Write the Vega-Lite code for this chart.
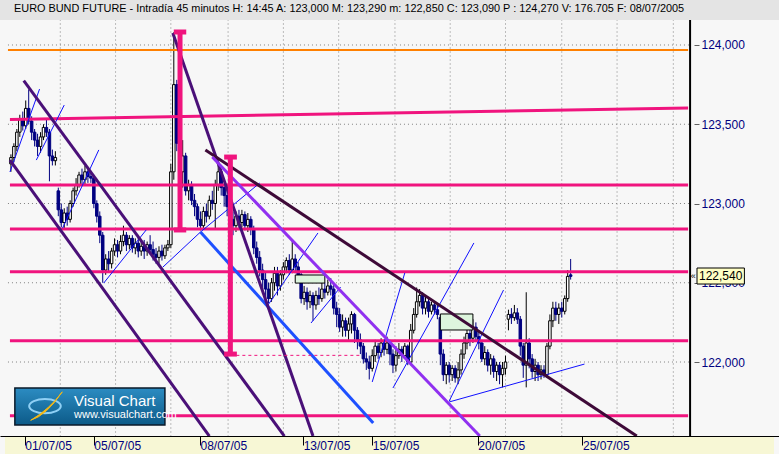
{
"$schema":"https://vega.github.io/schema/vega-lite/v6.json",
"width":779,"height":434,
"autosize":{"type":"none"},
"padding":{"left":0,"right":0,"top":20,"bottom":0},
"background":"#E4E4E4",
"config":{"view":{"fill":"#F7F7F7","stroke":null}},
"title":{"text":"EURO BUND FUTURE - Intradía 45 minutos  H: 14:45  A: 123,000  M: 123,290  m: 122,850  C: 123,090  P : 124,270  V: 176.705  F: 08/07/2005","anchor":"start","frame":"group","font":"Liberation Sans","fontSize":10.9,"fontWeight":"normal","color":"#000000","offset":5,"dx":14},
"datasets":{
"one":[{}],
"gh":[{"p":122},{"p":122.5},{"p":123},{"p":123.5},{"p":124}],
"gv":[{"t":17.67},{"t":36.33},{"t":55},{"t":74.33},{"t":93},{"t":111.67},{"t":130.67},{"t":149.33},{"t":168},{"t":187},{"t":205.67},{"t":224.67}],
"candles":[
{"t":1,"o":123.25,"h":123.31,"l":123.2,"c":123.29},
{"t":2,"o":123.29,"h":123.38,"l":123.26,"c":123.36},
{"t":3,"o":123.36,"h":123.47,"l":123.33,"c":123.45},
{"t":4,"o":123.45,"h":123.56,"l":123.42,"c":123.53},
{"t":5,"o":123.53,"h":123.58,"l":123.46,"c":123.49},
{"t":6,"o":123.49,"h":123.65,"l":123.47,"c":123.6},
{"t":7,"o":123.6,"h":123.72,"l":123.5,"c":123.52},
{"t":8,"o":123.52,"h":123.55,"l":123.4,"c":123.45},
{"t":9,"o":123.45,"h":123.47,"l":123.36,"c":123.4},
{"t":10,"o":123.4,"h":123.44,"l":123.3,"c":123.36},
{"t":11,"o":123.36,"h":123.45,"l":123.32,"c":123.42},
{"t":12,"o":123.42,"h":123.5,"l":123.4,"c":123.48},
{"t":13,"o":123.48,"h":123.53,"l":123.42,"c":123.45},
{"t":14,"o":123.45,"h":123.47,"l":123.14,"c":123.3},
{"t":15,"o":123.3,"h":123.34,"l":123.24,"c":123.27},
{"t":16,"o":123.27,"h":123.33,"l":123.24,"c":123.29},
{"t":17,"o":123.08,"h":123.1,"l":122.92,"c":122.96},
{"t":18,"o":122.96,"h":123.0,"l":122.85,"c":122.88},
{"t":19,"o":122.88,"h":122.97,"l":122.84,"c":122.94},
{"t":20,"o":122.94,"h":122.98,"l":122.86,"c":122.9},
{"t":21,"o":122.9,"h":123.02,"l":122.88,"c":123.0},
{"t":22,"o":123.0,"h":123.1,"l":122.98,"c":123.08},
{"t":23,"o":123.08,"h":123.16,"l":123.05,"c":123.12},
{"t":24,"o":123.12,"h":123.2,"l":123.1,"c":123.18},
{"t":25,"o":123.18,"h":123.22,"l":123.12,"c":123.15},
{"t":26,"o":123.15,"h":123.24,"l":123.12,"c":123.2},
{"t":27,"o":123.2,"h":123.22,"l":123.13,"c":123.17},
{"t":28,"o":123.17,"h":123.2,"l":123.13,"c":123.16},
{"t":29,"o":123.16,"h":123.17,"l":122.97,"c":123.0},
{"t":30,"o":123.0,"h":123.02,"l":122.88,"c":122.92},
{"t":31,"o":122.92,"h":122.95,"l":122.75,"c":122.8},
{"t":32,"o":122.8,"h":122.82,"l":122.5,"c":122.58},
{"t":33,"o":122.58,"h":122.68,"l":122.55,"c":122.65},
{"t":34,"o":122.65,"h":122.7,"l":122.57,"c":122.62},
{"t":35,"o":122.62,"h":122.72,"l":122.59,"c":122.7},
{"t":36,"o":122.7,"h":122.78,"l":122.67,"c":122.74},
{"t":37,"o":122.74,"h":122.77,"l":122.66,"c":122.7},
{"t":38,"o":122.7,"h":122.8,"l":122.68,"c":122.76},
{"t":39,"o":122.76,"h":122.86,"l":122.73,"c":122.8},
{"t":40,"o":122.8,"h":122.82,"l":122.7,"c":122.74},
{"t":41,"o":122.74,"h":122.8,"l":122.71,"c":122.78},
{"t":42,"o":122.78,"h":122.8,"l":122.69,"c":122.72},
{"t":43,"o":122.72,"h":122.78,"l":122.68,"c":122.75},
{"t":44,"o":122.75,"h":122.79,"l":122.66,"c":122.7},
{"t":45,"o":122.7,"h":122.76,"l":122.67,"c":122.73},
{"t":46,"o":122.73,"h":122.77,"l":122.65,"c":122.7},
{"t":47,"o":122.7,"h":122.76,"l":122.67,"c":122.74},
{"t":48,"o":122.74,"h":122.8,"l":122.68,"c":122.71},
{"t":49,"o":122.71,"h":122.76,"l":122.64,"c":122.68},
{"t":50,"o":122.68,"h":122.72,"l":122.62,"c":122.66},
{"t":51,"o":122.66,"h":122.73,"l":122.62,"c":122.7},
{"t":52,"o":122.7,"h":122.74,"l":122.64,"c":122.67},
{"t":53,"o":122.67,"h":122.74,"l":122.65,"c":122.72},
{"t":54,"o":122.72,"h":122.77,"l":122.7,"c":122.74},
{"t":55,"o":122.74,"h":123.25,"l":122.72,"c":123.2},
{"t":56,"o":123.2,"h":124.08,"l":123.15,"c":123.75},
{"t":57,"o":123.75,"h":123.78,"l":123.33,"c":123.38},
{"t":58,"o":123.38,"h":123.42,"l":123.14,"c":123.2},
{"t":59,"o":123.2,"h":123.4,"l":123.1,"c":123.3},
{"t":60,"o":123.3,"h":123.32,"l":123.05,"c":123.08},
{"t":61,"o":123.08,"h":123.15,"l":123.02,"c":123.12},
{"t":62,"o":123.12,"h":123.14,"l":122.99,"c":123.02},
{"t":63,"o":123.02,"h":123.06,"l":122.92,"c":122.98},
{"t":64,"o":122.98,"h":123.0,"l":122.85,"c":122.9},
{"t":65,"o":122.9,"h":122.95,"l":122.83,"c":122.86},
{"t":66,"o":122.86,"h":122.98,"l":122.84,"c":122.95},
{"t":67,"o":122.95,"h":123.0,"l":122.88,"c":122.92},
{"t":68,"o":122.92,"h":123.05,"l":122.9,"c":123.02},
{"t":69,"o":123.02,"h":123.08,"l":122.96,"c":123.0},
{"t":70,"o":123.0,"h":123.15,"l":122.84,"c":123.12},
{"t":71,"o":123.12,"h":123.27,"l":123.08,"c":123.2},
{"t":72,"o":123.2,"h":123.22,"l":123.05,"c":123.1},
{"t":73,"o":123.1,"h":123.12,"l":122.98,"c":123.05},
{"t":74,"o":123.05,"h":123.08,"l":122.92,"c":122.98},
{"t":75,"o":122.98,"h":123.0,"l":122.84,"c":122.9},
{"t":76,"o":122.9,"h":122.95,"l":122.8,"c":122.86},
{"t":77,"o":122.86,"h":122.95,"l":122.82,"c":122.92},
{"t":78,"o":122.92,"h":122.96,"l":122.84,"c":122.88},
{"t":79,"o":122.88,"h":122.96,"l":122.85,"c":122.93},
{"t":80,"o":122.93,"h":122.95,"l":122.83,"c":122.86},
{"t":81,"o":122.86,"h":122.94,"l":122.82,"c":122.9},
{"t":82,"o":122.9,"h":122.92,"l":122.8,"c":122.84},
{"t":83,"o":122.84,"h":122.86,"l":122.68,"c":122.72},
{"t":84,"o":122.72,"h":122.76,"l":122.62,"c":122.66},
{"t":85,"o":122.66,"h":122.7,"l":122.54,"c":122.58},
{"t":86,"o":122.58,"h":122.62,"l":122.46,"c":122.52},
{"t":87,"o":122.52,"h":122.57,"l":122.4,"c":122.46},
{"t":88,"o":122.46,"h":122.5,"l":122.37,"c":122.4},
{"t":89,"o":122.4,"h":122.53,"l":122.38,"c":122.5},
{"t":90,"o":122.5,"h":122.6,"l":122.45,"c":122.56},
{"t":91,"o":122.56,"h":122.6,"l":122.42,"c":122.48},
{"t":92,"o":122.48,"h":122.58,"l":122.45,"c":122.55},
{"t":93,"o":122.55,"h":122.63,"l":122.52,"c":122.6},
{"t":94,"o":122.6,"h":122.66,"l":122.56,"c":122.64},
{"t":95,"o":122.64,"h":122.68,"l":122.55,"c":122.58},
{"t":96,"o":122.58,"h":122.77,"l":122.56,"c":122.65},
{"t":97,"o":122.65,"h":122.68,"l":122.56,"c":122.6},
{"t":98,"o":122.6,"h":122.63,"l":122.52,"c":122.55},
{"t":99,"o":122.55,"h":122.57,"l":122.37,"c":122.4},
{"t":100,"o":122.4,"h":122.48,"l":122.36,"c":122.44},
{"t":101,"o":122.44,"h":122.47,"l":122.33,"c":122.38},
{"t":102,"o":122.38,"h":122.45,"l":122.34,"c":122.42},
{"t":103,"o":122.42,"h":122.44,"l":122.26,"c":122.36},
{"t":104,"o":122.36,"h":122.45,"l":122.33,"c":122.42},
{"t":105,"o":122.42,"h":122.47,"l":122.36,"c":122.4},
{"t":106,"o":122.4,"h":122.5,"l":122.38,"c":122.46},
{"t":107,"o":122.46,"h":122.5,"l":122.4,"c":122.44},
{"t":108,"o":122.44,"h":122.52,"l":122.42,"c":122.48},
{"t":109,"o":122.48,"h":122.53,"l":122.42,"c":122.46},
{"t":110,"o":122.46,"h":122.5,"l":122.3,"c":122.34},
{"t":111,"o":122.34,"h":122.38,"l":122.22,"c":122.3},
{"t":112,"o":122.3,"h":122.34,"l":122.19,"c":122.22},
{"t":113,"o":122.22,"h":122.3,"l":122.16,"c":122.26},
{"t":114,"o":122.26,"h":122.28,"l":122.16,"c":122.2},
{"t":115,"o":122.2,"h":122.28,"l":122.14,"c":122.24},
{"t":116,"o":122.24,"h":122.32,"l":122.18,"c":122.3},
{"t":117,"o":122.3,"h":122.31,"l":122.12,"c":122.2},
{"t":118,"o":122.2,"h":122.22,"l":122.08,"c":122.14},
{"t":119,"o":122.14,"h":122.18,"l":122.05,"c":122.1},
{"t":120,"o":122.1,"h":122.12,"l":121.99,"c":122.02},
{"t":121,"o":122.02,"h":122.06,"l":121.95,"c":122.0},
{"t":122,"o":122.0,"h":122.04,"l":121.89,"c":121.96},
{"t":123,"o":121.96,"h":122.08,"l":121.94,"c":122.04},
{"t":124,"o":122.04,"h":122.14,"l":122.0,"c":122.1},
{"t":125,"o":122.1,"h":122.12,"l":122.02,"c":122.06},
{"t":126,"o":122.06,"h":122.15,"l":122.03,"c":122.12},
{"t":127,"o":122.12,"h":122.14,"l":122.04,"c":122.08},
{"t":128,"o":122.08,"h":122.16,"l":122.05,"c":122.12},
{"t":129,"o":122.12,"h":122.14,"l":121.98,"c":122.05},
{"t":130,"o":122.05,"h":122.08,"l":121.93,"c":121.98},
{"t":131,"o":121.98,"h":122.1,"l":121.94,"c":122.04},
{"t":132,"o":122.04,"h":122.12,"l":122.02,"c":122.08},
{"t":133,"o":122.08,"h":122.1,"l":122.0,"c":122.04},
{"t":134,"o":122.04,"h":122.12,"l":122.02,"c":122.1},
{"t":135,"o":122.1,"h":122.11,"l":121.98,"c":122.0},
{"t":136,"o":122.0,"h":122.24,"l":121.98,"c":122.2},
{"t":137,"o":122.2,"h":122.34,"l":122.18,"c":122.3},
{"t":138,"o":122.3,"h":122.47,"l":122.28,"c":122.38},
{"t":139,"o":122.38,"h":122.46,"l":122.35,"c":122.42},
{"t":140,"o":122.42,"h":122.44,"l":122.3,"c":122.34},
{"t":141,"o":122.34,"h":122.42,"l":122.3,"c":122.38},
{"t":142,"o":122.38,"h":122.4,"l":122.28,"c":122.32},
{"t":143,"o":122.32,"h":122.38,"l":122.3,"c":122.36},
{"t":144,"o":122.36,"h":122.38,"l":122.3,"c":122.33},
{"t":145,"o":122.33,"h":122.36,"l":122.27,"c":122.3},
{"t":146,"o":122.28,"h":122.3,"l":121.98,"c":122.05},
{"t":147,"o":122.05,"h":122.08,"l":121.88,"c":121.92},
{"t":148,"o":121.92,"h":122.0,"l":121.86,"c":121.98},
{"t":149,"o":121.98,"h":122.0,"l":121.87,"c":121.92},
{"t":150,"o":121.92,"h":121.98,"l":121.88,"c":121.96},
{"t":151,"o":121.96,"h":121.98,"l":121.87,"c":121.9},
{"t":152,"o":121.9,"h":122.0,"l":121.86,"c":121.95},
{"t":153,"o":121.95,"h":122.08,"l":121.92,"c":122.05},
{"t":154,"o":122.05,"h":122.16,"l":122.02,"c":122.12},
{"t":155,"o":122.12,"h":122.22,"l":122.08,"c":122.18},
{"t":156,"o":122.18,"h":122.22,"l":122.1,"c":122.15},
{"t":157,"o":122.15,"h":122.27,"l":122.12,"c":122.22},
{"t":158,"o":122.22,"h":122.25,"l":122.13,"c":122.16},
{"t":159,"o":122.16,"h":122.2,"l":122.08,"c":122.12},
{"t":160,"o":122.12,"h":122.14,"l":122.0,"c":122.02},
{"t":161,"o":122.02,"h":122.1,"l":121.98,"c":122.06},
{"t":162,"o":122.06,"h":122.08,"l":121.94,"c":121.98},
{"t":163,"o":121.98,"h":122.05,"l":121.92,"c":122.02},
{"t":164,"o":122.02,"h":122.04,"l":121.9,"c":121.94},
{"t":165,"o":121.94,"h":122.0,"l":121.88,"c":121.98},
{"t":166,"o":121.98,"h":122.0,"l":121.86,"c":121.92},
{"t":167,"o":121.92,"h":122.0,"l":121.84,"c":121.96},
{"t":168,"o":121.96,"h":122.04,"l":121.92,"c":122.0},
{"t":169,"o":122.27,"h":122.33,"l":122.2,"c":122.3},
{"t":170,"o":122.3,"h":122.34,"l":122.24,"c":122.28},
{"t":171,"o":122.28,"h":122.36,"l":122.26,"c":122.31},
{"t":172,"o":122.31,"h":122.34,"l":122.24,"c":122.27},
{"t":173,"o":122.27,"h":122.29,"l":122.04,"c":122.1},
{"t":174,"o":122.1,"h":122.12,"l":121.9,"c":121.98},
{"t":175,"o":121.98,"h":122.44,"l":121.84,"c":122.12},
{"t":176,"o":122.12,"h":122.15,"l":121.96,"c":122.02},
{"t":177,"o":122.02,"h":122.05,"l":121.9,"c":121.94},
{"t":178,"o":121.94,"h":122.02,"l":121.88,"c":121.98},
{"t":179,"o":121.98,"h":122.0,"l":121.88,"c":121.92},
{"t":180,"o":121.92,"h":121.98,"l":121.89,"c":121.95},
{"t":181,"o":121.95,"h":121.98,"l":121.9,"c":121.92},
{"t":182,"o":121.92,"h":122.12,"l":121.9,"c":122.1},
{"t":183,"o":122.1,"h":122.3,"l":122.08,"c":122.26},
{"t":184,"o":122.26,"h":122.38,"l":122.22,"c":122.34},
{"t":185,"o":122.34,"h":122.38,"l":122.26,"c":122.3},
{"t":186,"o":122.3,"h":122.37,"l":122.24,"c":122.34},
{"t":187,"o":122.34,"h":122.38,"l":122.28,"c":122.32},
{"t":188,"o":122.32,"h":122.42,"l":122.3,"c":122.4},
{"t":189,"o":122.4,"h":122.58,"l":122.38,"c":122.54},
{"t":190,"o":122.55,"h":122.65,"l":122.52,"c":122.54}
],
"segs":[
{"k":"mag","t1":0.67,"p1":123.53,"t2":229.67,"p2":123.603},
{"k":"mag","t1":0.67,"p1":123.117,"t2":229.67,"p2":123.117},
{"k":"mag","t1":0.67,"p1":122.839,"t2":229.67,"p2":122.839},
{"k":"mag","t1":0.67,"p1":122.57,"t2":229.67,"p2":122.57},
{"k":"mag","t1":0.67,"p1":122.134,"t2":229.67,"p2":122.134},
{"k":"mag","t1":0.67,"p1":121.661,"t2":229.67,"p2":121.661},
{"k":"org","t1":0,"p1":123.968,"t2":229.67,"p2":123.968},
{"k":"ind","t1":5.33,"p1":123.775,"t2":93.33,"p2":121.533},
{"k":"ind","t1":0.67,"p1":123.274,"t2":68,"p2":121.533},
{"k":"ind","t1":55.67,"p1":124.076,"t2":103,"p2":121.533},
{"k":"plum","t1":66.67,"p1":123.338,"t2":212.33,"p2":121.533},
{"k":"vio","t1":69,"p1":123.293,"t2":159.33,"p2":121.533},
{"k":"bth","t1":65,"p1":122.82,"t2":123.33,"p2":121.615},
{"k":"bl","t1":0.67,"p1":123.199,"t2":10.67,"p2":123.722},
{"k":"bl","t1":9.57,"p1":123.274,"t2":19,"p2":123.621},
{"k":"bl","t1":18.43,"p1":122.844,"t2":30.67,"p2":123.338},
{"k":"bl","t1":32.33,"p1":122.498,"t2":46.67,"p2":122.833},
{"k":"bl","t1":52.33,"p1":122.599,"t2":65,"p2":122.82},
{"k":"bl","t1":65,"p1":122.82,"t2":85,"p2":123.129},
{"k":"bl","t1":87.33,"p1":122.347,"t2":104.67,"p2":122.814},
{"k":"bl","t1":102.33,"p1":122.246,"t2":112.33,"p2":122.473},
{"k":"bl","t1":123,"p1":121.874,"t2":134,"p2":122.562},
{"k":"bl","t1":130,"p1":121.836,"t2":157.33,"p2":122.751},
{"k":"bl","t1":149,"p1":121.754,"t2":167.33,"p2":122.454},
{"k":"bl","t1":149,"p1":121.748,"t2":194.67,"p2":121.987},
{"k":"pdash","t1":75.1,"p1":122.042,"t2":119,"p2":122.042},
{"k":"pv","t1":58.1,"p1":124.082,"t2":58.1,"p2":122.833},
{"k":"pv","t1":75.1,"p1":123.293,"t2":75.1,"p2":122.05},
{"k":"pcap","t1":56,"p1":124.082,"t2":60.2,"p2":124.082},
{"k":"pcap","t1":56,"p1":122.833,"t2":60.2,"p2":122.833},
{"k":"pcap","t1":73,"p1":123.293,"t2":77.3,"p2":123.293},
{"k":"pcap","t1":73,"p1":122.05,"t2":77.3,"p2":122.05}
],
"boxes":[{"t1":97,"t2":107,"p1":122.549,"p2":122.498},{"t1":146,"t2":157,"p1":122.303,"p2":122.202}],
"last":[{"p":122.54,"label":"122,540"}],
"logo":[{"name":"Visual Chart","url":"www.visualchart.com"}]
},
"layer":[
{"data":{"name":"one"},"mark":{"type":"rect","fill":"#F7F7D5"},
 "encoding":{"x":{"datum":-1},"x2":{"datum":258.667},"y":{"datum":121.4196},"y2":{"datum":121.53}}},
{"data":{"name":"gh"},
 "mark":{"type":"rule","color":"#808080","strokeDash":[1,3],"strokeWidth":1},
 "encoding":{
  "y":{"field":"p","type":"quantitative","scale":{"domain":[121.4196,124.1577],"nice":false,"zero":false},
   "axis":{"orient":"right","offset":-85,"values":[122,122.5,123,123.5,124],"labelExpr":"replace(format(datum.value, '.3f'), '.', ',')","domain":false,"grid":false,"ticks":true,"tickSize":5,"tickColor":"#606060","labelColor":"#000080","labelFont":"Liberation Sans","labelFontSize":12,"labelPadding":2,"labelBaseline":"middle","title":null,"zindex":0}},
  "x":{"datum":0},"x2":{"datum":230.33}}},
{"data":{"name":"gv"},
 "mark":{"type":"rule","color":"#808080","strokeDash":[1,3],"strokeWidth":1},
 "encoding":{
  "x":{"field":"t","type":"quantitative","scale":{"domain":[-1,258.667],"nice":false,"zero":false},
   "axis":{"orient":"bottom","offset":-18,"values":[5.67,29,64.83,99.67,123,158.67,194],"labelExpr":"['01/07/05','05/07/05','08/07/05','13/07/05','15/07/05','20/07/05','25/07/05'][indexof([5.67,29,64.83,99.67,123,158.67,194], datum.value)]","domain":true,"domainColor":"#000000","grid":false,"ticks":true,"tickSize":9,"tickColor":"#000000","labelColor":"#000080","labelFont":"Liberation Sans","labelFontSize":12,"labelAlign":"left","labelBaseline":"middle","labelDx":3,"labelPadding":0,"labelFlush":false,"labelOverlap":false,"title":null,"zindex":1}},
  "y":{"datum":121.53},"y2":{"datum":124.1577}}},
{"data":{"name":"candles"},
 "mark":{"type":"rule","strokeWidth":1},
 "encoding":{"x":{"field":"t","type":"quantitative"},"y":{"field":"l","type":"quantitative"},"y2":{"field":"h"},
  "color":{"condition":{"test":"datum.c >= datum.o","value":"#000000"},"value":"#000080"}}},
{"data":{"name":"candles"},
 "mark":{"type":"bar","size":2.5,"strokeWidth":1},
 "encoding":{"x":{"field":"t","type":"quantitative"},"y":{"field":"o","type":"quantitative"},"y2":{"field":"c"},
  "fill":{"condition":{"test":"datum.c >= datum.o","value":"#FFFFFF"},"value":"#000080"},
  "stroke":{"condition":{"test":"datum.c >= datum.o","value":"#000000"},"value":"#000080"}}},
{"data":{"name":"boxes"},
 "mark":{"type":"rect","fill":"#DDF5DD","stroke":"#000000","strokeWidth":1},
 "encoding":{"x":{"field":"t1","type":"quantitative"},"x2":{"field":"t2"},"y":{"field":"p1","type":"quantitative"},"y2":{"field":"p2"}}},
{"data":{"name":"segs"},"transform":[{"filter":"datum.k=='mag'"}],
 "mark":{"type":"rule","color":"#F0147E","strokeWidth":3},
 "encoding":{"x":{"field":"t1","type":"quantitative"},"x2":{"field":"t2"},"y":{"field":"p1","type":"quantitative"},"y2":{"field":"p2"}}},
{"data":{"name":"segs"},"transform":[{"filter":"datum.k=='org'"}],
 "mark":{"type":"rule","color":"#FF8000","strokeWidth":2},
 "encoding":{"x":{"field":"t1","type":"quantitative"},"x2":{"field":"t2"},"y":{"field":"p1","type":"quantitative"},"y2":{"field":"p2"}}},
{"data":{"name":"segs"},"transform":[{"filter":"datum.k=='bl'"}],
 "mark":{"type":"rule","color":"#1010FF","strokeWidth":1},
 "encoding":{"x":{"field":"t1","type":"quantitative"},"x2":{"field":"t2"},"y":{"field":"p1","type":"quantitative"},"y2":{"field":"p2"}}},
{"data":{"name":"segs"},"transform":[{"filter":"datum.k=='bth'"}],
 "mark":{"type":"rule","color":"#1E50FF","strokeWidth":3},
 "encoding":{"x":{"field":"t1","type":"quantitative"},"x2":{"field":"t2"},"y":{"field":"p1","type":"quantitative"},"y2":{"field":"p2"}}},
{"data":{"name":"segs"},"transform":[{"filter":"datum.k=='ind'"}],
 "mark":{"type":"rule","color":"#4A1078","strokeWidth":3},
 "encoding":{"x":{"field":"t1","type":"quantitative"},"x2":{"field":"t2"},"y":{"field":"p1","type":"quantitative"},"y2":{"field":"p2"}}},
{"data":{"name":"segs"},"transform":[{"filter":"datum.k=='plum'"}],
 "mark":{"type":"rule","color":"#3E0A38","strokeWidth":3},
 "encoding":{"x":{"field":"t1","type":"quantitative"},"x2":{"field":"t2"},"y":{"field":"p1","type":"quantitative"},"y2":{"field":"p2"}}},
{"data":{"name":"segs"},"transform":[{"filter":"datum.k=='vio'"}],
 "mark":{"type":"rule","color":"#9030F0","strokeWidth":3},
 "encoding":{"x":{"field":"t1","type":"quantitative"},"x2":{"field":"t2"},"y":{"field":"p1","type":"quantitative"},"y2":{"field":"p2"}}},
{"data":{"name":"segs"},"transform":[{"filter":"datum.k=='pdash'"}],
 "mark":{"type":"rule","color":"#F0147E","strokeWidth":1,"strokeDash":[3,3]},
 "encoding":{"x":{"field":"t1","type":"quantitative"},"x2":{"field":"t2"},"y":{"field":"p1","type":"quantitative"},"y2":{"field":"p2"}}},
{"data":{"name":"segs"},"transform":[{"filter":"datum.k=='pv' || datum.k=='pcap'"}],
 "mark":{"type":"rule","color":"#F0147E","strokeWidth":5},
 "encoding":{"x":{"field":"t1","type":"quantitative"},"x2":{"field":"t2"},"y":{"field":"p1","type":"quantitative"},"y2":{"field":"p2"}}},
{"data":{"name":"one"},"mark":{"type":"rule","color":"#000000","strokeWidth":2},
 "encoding":{"x":{"datum":230.33},"y":{"datum":121.53},"y2":{"datum":124.1577}}},
{"data":{"name":"one"},"mark":{"type":"rect","fill":{"gradient":"linear","x1":0,"y1":0,"x2":0,"y2":1,"stops":[{"offset":0,"color":"#2C8CC2"},{"offset":1,"color":"#0C5A88"}]},"stroke":"#0A1A2A","strokeWidth":1.5},
 "encoding":{"x":{"datum":2.33},"x2":{"datum":53},"y":{"datum":121.836},"y2":{"datum":121.6025}}},
{"data":{"name":"one"},"mark":{"type":"point","shape":"M -1 0 A 1 0.45 0 1 0 1 0 A 1 0.45 0 1 0 -1 0 Z","stroke":"#8FD0F5","strokeWidth":2,"filled":false,"size":1000,"opacity":1},
 "encoding":{"x":{"datum":12.5},"y":{"datum":121.722}}},
{"data":{"name":"one"},"mark":{"type":"point","shape":"M -1 0.9 Q 0 0.6 1 -0.9 Q 0.2 0.2 -1 0.9 Z","fill":"#F2B818","stroke":"#F2B818","strokeWidth":1,"filled":true,"size":1000,"opacity":1},
 "encoding":{"x":{"datum":13},"y":{"datum":121.722}}},
{"data":{"name":"logo"},"mark":{"type":"text","color":"#FFFFFF","font":"Liberation Sans","fontSize":15,"align":"left","baseline":"alphabetic"},
 "encoding":{"x":{"datum":22.3},"y":{"datum":121.722},"text":{"field":"name"}}},
{"data":{"name":"logo"},"mark":{"type":"text","color":"#FFFFFF","font":"Liberation Sans","fontSize":11,"align":"left","baseline":"alphabetic"},
 "encoding":{"x":{"datum":22.3},"y":{"datum":121.647},"text":{"field":"url"}}},
{"data":{"name":"one"},"mark":{"type":"rect","fill":"#FFFFC4","stroke":"#000000","strokeWidth":1},
 "encoding":{"x":{"datum":232.67},"x2":{"datum":248.67},"y":{"datum":122.593},"y2":{"datum":122.492}}},
{"data":{"name":"last"},
 "mark":{"type":"text","color":"#000000","font":"Liberation Sans","fontSize":12,"align":"center","baseline":"middle"},
 "encoding":{"x":{"datum":240.67},"y":{"field":"p","type":"quantitative"},"text":{"field":"label"}}},
{"data":{"name":"last"},
 "mark":{"type":"text","color":"#000000","font":"Liberation Sans","fontSize":9,"align":"center","baseline":"middle","text":"«"},
 "encoding":{"x":{"datum":231.4},"y":{"field":"p","type":"quantitative"}}}
]
}
